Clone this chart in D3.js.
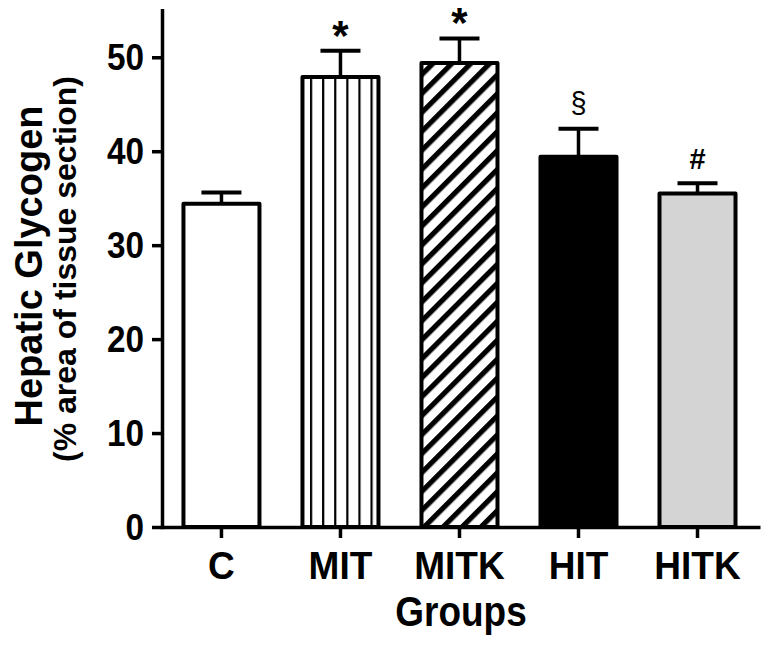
<!DOCTYPE html>
<html>
<head>
<meta charset="utf-8">
<script src="https://cdn.jsdelivr.net/npm/d3@7"></script>
<style>
  html, body { margin: 0; padding: 0; background: #fff; }
  svg { display: block; }
  text { font-family: Arial, "Liberation Sans", Helvetica, sans-serif; fill: #000; }
</style>
</head>
<body>
<svg id="chart" width="769" height="647"></svg>
<script>
// ---- data ----
const categories = ["C", "MIT", "MITK", "HIT", "HITK"];
const means = [34.4, 47.9, 49.4, 39.4, 35.5];
const sems = [1.2, 2.8, 2.6, 3.0, 1.1];
const markers = ["", "*", "*", "§", "#"];
const yTicks = [0, 10, 20, 30, 40, 50];
const yTitle = "Hepatic Glycogen";
const ySubtitle = "(% area of tissue section)";
const xTitle = "Groups";

// ---- styles ----
const fills = ["#ffffff", "url(#vlines)", "url(#diag)", "#000000", "#d4d4d4"];
const markerStyle = {
  "*": { size: 42, weight: "bold" },
  "§": { size: 29, weight: "normal" },
  "#": { size: 29, weight: "bold" }
};

const svg = d3.select("#chart");

const y = d3.scaleLinear().domain([0, 55]).range([527, 10.3]);
const x = d3.scaleBand().domain(categories).range([162, 760])
  .paddingInner(0.3613).paddingOuter(0.193).align(0.467);

// patterns
const defs = svg.append("defs");
const vp = defs.append("pattern").attr("id", "vlines")
  .attr("patternUnits", "userSpaceOnUse")
  .attr("x", x("MIT") + 7.5).attr("y", 0)
  .attr("width", 12.1).attr("height", 10);
vp.append("rect").attr("width", 12.1).attr("height", 10).attr("fill", "#fff");
vp.append("rect").attr("x", 0).attr("width", 2.2).attr("height", 10).attr("fill", "#000");

const dp = defs.append("pattern").attr("id", "diag")
  .attr("patternUnits", "userSpaceOnUse")
  .attr("x", x("MITK")).attr("y", 0)
  .attr("width", 13.4).attr("height", 13.4)
  .attr("patternTransform", "rotate(-45)");
dp.append("rect").attr("width", 13.4).attr("height", 13.4).attr("fill", "#fff");
dp.append("rect").attr("y", 0).attr("width", 13.4).attr("height", 5.2).attr("fill", "#000");

const data = categories.map((c, i) => ({ c, m: means[i], e: sems[i], mk: markers[i], fill: fills[i] }));

// error bars (behind bars)
const eb = svg.append("g").attr("stroke", "#000");
eb.selectAll("line.v").data(data).join("line")
  .attr("x1", d => x(d.c) + x.bandwidth() / 2).attr("x2", d => x(d.c) + x.bandwidth() / 2)
  .attr("y1", d => y(d.m)).attr("y2", d => y(d.m + d.e))
  .attr("stroke-width", 3.5);
eb.selectAll("line.h").data(data).join("line")
  .attr("x1", d => x(d.c) + x.bandwidth() / 2 - 20).attr("x2", d => x(d.c) + x.bandwidth() / 2 + 20)
  .attr("y1", d => y(d.m + d.e)).attr("y2", d => y(d.m + d.e))
  .attr("stroke-width", 4);

// bars
svg.append("g").selectAll("rect").data(data).join("rect")
  .attr("x", d => x(d.c)).attr("width", x.bandwidth())
  .attr("y", d => y(d.m)).attr("height", d => y(0) - y(d.m))
  .attr("fill", d => d.fill)
  .attr("stroke", "#000").attr("stroke-width", 4).attr("stroke-linejoin", "round");

// markers: glyph bottom placed a fixed gap above the error cap
const mg = svg.append("g");
const ctx = document.createElement("canvas").getContext("2d");
data.filter(d => d.mk).forEach(d => {
  const st = markerStyle[d.mk];
  const cx = x(d.c) + x.bandwidth() / 2;
  ctx.font = `${st.weight} ${st.size}px Arial, "Liberation Sans", sans-serif`;
  const descent = ctx.measureText(d.mk).actualBoundingBoxDescent;
  mg.append("text").text(d.mk)
    .attr("text-anchor", "middle")
    .attr("font-size", st.size).attr("font-weight", st.weight)
    .attr("x", cx).attr("y", y(d.m + d.e) - 14 - descent);
});

// y axis
const yAxis = svg.append("g").attr("transform", "translate(162,0)")
  .call(d3.axisLeft(y).tickValues(yTicks).tickSize(10).tickSizeOuter(0).tickFormat(""));
yAxis.selectAll("path, line").attr("stroke", "#000").attr("stroke-width", 3.5);
yAxis.select("path").attr("stroke-linecap", "square");

// y tick labels
svg.append("g").selectAll("text").data(yTicks).join("text")
  .attr("transform", d => `translate(144,${y(d) + 13}) scale(0.9,1)`)
  .attr("text-anchor", "end")
  .attr("font-size", 37).attr("font-weight", "bold")
  .text(d => d);

// x axis
const xAxis = svg.append("g").attr("transform", `translate(0,${y(0)})`)
  .call(d3.axisBottom(x).tickSize(11).tickSizeOuter(0).tickFormat(""));
xAxis.selectAll("path, line").attr("stroke", "#000").attr("stroke-width", 3.5);

// x labels
svg.append("g").selectAll("text").data(categories).join("text")
  .attr("transform", d => `translate(${x(d) + x.bandwidth() / 2},579) scale(0.95,1)`)
  .attr("text-anchor", "middle")
  .attr("font-size", 39).attr("font-weight", "bold")
  .text(d => d);

// axis titles
svg.append("text")
  .attr("transform", "translate(461,626) scale(0.88,1)")
  .attr("text-anchor", "middle").attr("font-size", 42).attr("font-weight", "bold")
  .text(xTitle);

svg.append("text")
  .attr("transform", "translate(42,266) rotate(-90)")
  .attr("text-anchor", "middle").attr("font-size", 38).attr("font-weight", "bold")
  .text(yTitle);

svg.append("text")
  .attr("transform", "translate(76,269) rotate(-90)")
  .attr("text-anchor", "middle").attr("font-size", 32).attr("font-weight", "bold")
  .text(ySubtitle);
</script>
</body>
</html>
